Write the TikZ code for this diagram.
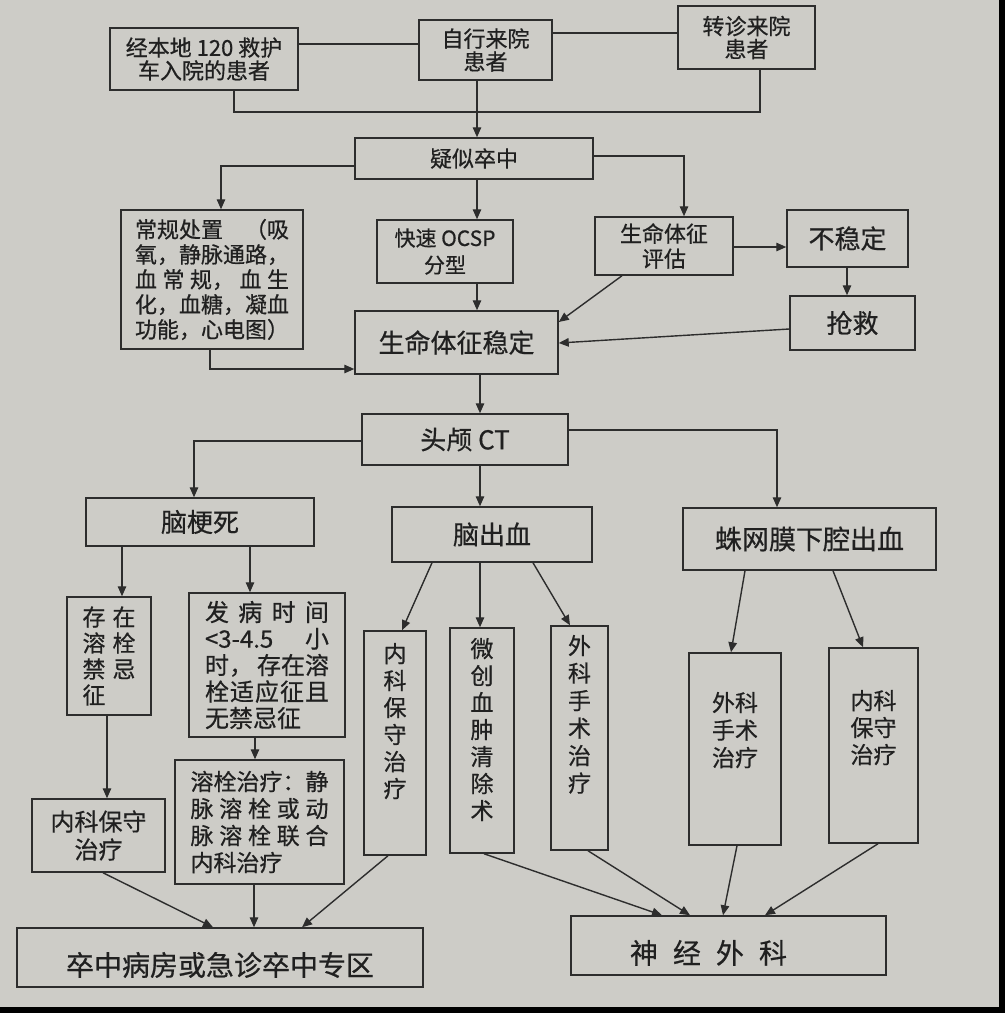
\documentclass[tikz,border=0pt]{standalone}
\usepackage{fontspec}
\setmainfont{Noto Sans CJK SC}[FakeBold=0.6]
\usetikzlibrary{arrows.meta}
\definecolor{bgc}{RGB}{205,204,199}
\definecolor{ink}{RGB}{45,45,45}
\definecolor{txt}{RGB}{32,32,32}
\newcommand\fs[2]{\fontsize{#1pt}{#2pt}\selectfont}
\begin{document}
\begin{tikzpicture}[x=1pt,y=-1pt,
  box/.style={draw=ink,line width=1.5pt,inner sep=0pt,text=txt},
  ln/.style={draw=ink,line width=1.4pt},
  arr/.style={ln,-{Triangle[length=10pt,width=8.5pt]}}]
\fill[bgc] (0,0) rectangle (1005,1013);
\useasboundingbox (0,0) rectangle (1005,1013);
\fill[black] (999,0) rectangle (1005,1013);
\fill[black] (0,1007) rectangle (1005,1013);

% ---- boxes ----
\node[box,align=center,minimum width=188pt,minimum height=62pt,font=\fs{22}{23}] (A) at (204,59) {经本地 120 救护\\车入院的患者};
\node[box,align=center,minimum width=133pt,minimum height=60pt,font=\fs{22}{23}] (B) at (485.5,50) {自行来院\\患者};
\node[box,align=center,minimum width=137pt,minimum height=63pt,font=\fs{22}{23}] (C) at (746.5,37.5) {转诊来院\\患者};
\node[box,minimum width=238pt,minimum height=41pt,font=\fs{22}{23}] (D) at (474,158.5) {疑似卒中};
\node[box,align=left,minimum width=182pt,minimum height=139pt,font=\fs{22}{25}] (E) at (212,279.5)
  {\makebox[154pt]{常规处置\hfill{}（吸}\\
   \makebox[154pt][l]{氧，静脉通路，}\\
   \makebox[154pt]{血\hfill{}常\hfill{}规，\hfill{}血\hfill{}生}\\
   \makebox[154pt][l]{化，血糖，凝血}\\
   \makebox[154pt][l]{功能，心电图）}};
\node[box,align=center,minimum width=136pt,minimum height=63pt,font=\fs{21}{27}] (F) at (445,251.5) {快速 OCSP\\分型};
\node[box,align=center,minimum width=138pt,minimum height=58pt,font=\fs{22}{25}] (G) at (664,246) {生命体征\\评估};
\node[box,minimum width=121pt,minimum height=57pt,font=\fs{26}{28}] (H) at (847.5,238.5) {不稳定};
\node[box,minimum width=125pt,minimum height=54pt,font=\fs{26}{28}] (I) at (852.5,323) {抢救};
\node[box,minimum width=203pt,minimum height=63pt,font=\fs{26}{28}] (J) at (456.5,342.5) {生命体征稳定};
\node[box,minimum width=206pt,minimum height=51pt,font=\fs{26}{28}] (K) at (465,439.5) {头颅 CT};
\node[box,minimum width=228pt,minimum height=48pt,font=\fs{26}{28}] (L) at (200,522) {脑梗死};
\node[box,minimum width=200pt,minimum height=55pt,font=\fs{26}{28}] (M) at (492,534.5) {脑出血};
\node[box,minimum width=253pt,minimum height=62pt,font=\fs{27}{28}] (N) at (809.5,539) {蛛网膜下腔出血};
\node[box,align=left,minimum width=84pt,minimum height=118pt,font=\fs{23}{26}] (O) at (109,656)
  {\makebox[53pt]{存\hfill{}在}\\\makebox[53pt]{溶\hfill{}栓}\\\makebox[53pt]{禁\hfill{}忌}\\\makebox[53pt][l]{征}};
\node[box,align=left,minimum width=156pt,minimum height=144pt,font=\fs{24}{26.5}] (P) at (267,665)
  {\makebox[124pt]{发\hfill{}病\hfill{}时\hfill{}间}\\
   \makebox[124pt]{<3-4.5\hfill{}小}\\
   \makebox[124pt]{时，\hfill{}存在溶}\\
   \makebox[124pt]{栓\hfill{}适\hfill{}应\hfill{}征\hfill{}且}\\
   \makebox[124pt][l]{无禁忌征}};
\node[box,align=center,minimum width=133pt,minimum height=73pt,font=\fs{24}{28}] (Q) at (98.5,835.5) {内科保守\\治疗};
\node[box,align=left,minimum width=169pt,minimum height=124pt,font=\fs{23}{27}] (R) at (259.5,822)
  {\makebox[138pt]{溶栓治疗：静}\\
   \makebox[138pt]{脉\hfill{}溶\hfill{}栓\hfill{}或\hfill{}动}\\
   \makebox[138pt]{脉\hfill{}溶\hfill{}栓\hfill{}联\hfill{}合}\\
   \makebox[138pt][l]{内科治疗}};
\node[box,font=\fs{28}{30}] (S) at (220,957.5)
  {\parbox[c][59pt][t]{406pt}{\vspace*{24pt}\centering 卒中病房或急诊卒中专区}};
\node[box,font=\fs{23}{27}] (T) at (395,743)
  {\parbox[c][224pt][t]{62pt}{\vspace*{12pt}\centering 内\\科\\保\\守\\治\\疗}};
\node[box,font=\fs{23}{27}] (U) at (482,740.5)
  {\parbox[c][225pt][t]{64pt}{\vspace*{10pt}\centering 微\\创\\血\\肿\\清\\除\\术}};
\node[box,font=\fs{23}{27.5}] (V) at (579.5,738)
  {\parbox[c][224pt][t]{57pt}{\vspace*{9pt}\centering 外\\科\\手\\术\\治\\疗}};
\node[box,font=\fs{23}{27.5}] (W) at (735,749)
  {\parbox[c][192pt][t]{92pt}{\vspace*{39pt}\centering 外科\\手术\\治疗}};
\node[box,font=\fs{23}{27}] (X) at (873.5,745.5)
  {\parbox[c][195pt][t]{89pt}{\vspace*{42pt}\centering 内科\\保守\\治疗}};
\node[box,font=\fs{28}{30}] (Y) at (728.5,945.5)
  {\parbox[c][59pt][t]{315pt}{\vspace*{24pt}\centering\hspace*{-40pt}神\hspace{15pt}经\hspace{15pt}外\hspace{15pt}科}};

% ---- helper coordinates ----
\coordinate (yAB) at (0,44);
\coordinate (yBC) at (0,33);
\coordinate (jl) at (234,112);
\coordinate (jr) at (760,112);
\coordinate (xt) at (477,0);
\coordinate (cDE) at (221,166);
\coordinate (cDG) at (684,156);
\coordinate (cEJ) at (210,369);
\coordinate (xg) at (622,0);
\coordinate (yj1) at (0,322);
\coordinate (yGH) at (0,247);
\coordinate (xH) at (847,0);
\coordinate (yI) at (0,329);
\coordinate (yJ) at (0,343);
\coordinate (xm) at (480,0);
\coordinate (cKL) at (194,441);
\coordinate (cKN) at (777,430);
\coordinate (xLO) at (122,0);
\coordinate (xLP) at (250,0);
\coordinate (xOQ) at (107,0);
\coordinate (xPR) at (255,0);
\coordinate (xQ) at (103,0);
\coordinate (xSQ) at (213,0);
\coordinate (xR) at (254,0);
\coordinate (xT) at (388,0);
\coordinate (xST) at (302,0);
\coordinate (xM1) at (432,0);
\coordinate (xT1) at (402,0);
\coordinate (xM3) at (533,0);
\coordinate (xV1) at (570,0);
\coordinate (xN1) at (745,0);
\coordinate (xW1) at (731,0);
\coordinate (xN2) at (833,0);
\coordinate (xX1) at (863,0);
\coordinate (xU2) at (484,0);
\coordinate (xY1) at (662,0);
\coordinate (xV2) at (588,0);
\coordinate (xY2) at (690,0);
\coordinate (xW2) at (737,0);
\coordinate (xY3) at (723,0);
\coordinate (xX2) at (878,0);
\coordinate (xY4) at (765,0);

% ---- connectors ----
\draw[ln] (A.east |- yAB) -- (B.west |- yAB);
\draw[ln] (B.east |- yBC) -- (C.west |- yBC);
\draw[ln] (A.south -| jl) -- (jl) -- (jr) -- (C.south -| jr);
\draw[arr] (B.south -| xt) -- (D.north -| xt);
\draw[arr] (D.west |- cDE) -| (E.north -| cDE);
\draw[arr] (D.east |- cDG) -| (G.north -| cDG);
\draw[arr] (D.south -| xt) -- (F.north -| xt);
\draw[arr] (E.south -| cEJ) |- (J.west |- cEJ);
\draw[arr] (F.south -| xt) -- (J.north -| xt);
\draw[arr] (G.south -| xg) -- (J.east |- yj1);
\draw[arr] (G.east |- yGH) -- (H.west |- yGH);
\draw[arr] (H.south -| xH) -- (I.north -| xH);
\draw[arr] (I.west |- yI) -- (J.east |- yJ);
\draw[arr] (J.south -| xm) -- (K.north -| xm);
\draw[arr] (K.west |- cKL) -| (L.north -| cKL);
\draw[arr] (K.east |- cKN) -| (N.north -| cKN);
\draw[arr] (K.south -| xm) -- (M.north -| xm);
\draw[arr] (L.south -| xLO) -- (O.north -| xLO);
\draw[arr] (L.south -| xLP) -- (P.north -| xLP);
\draw[arr] (O.south -| xOQ) -- (Q.north -| xOQ);
\draw[arr] (P.south -| xPR) -- (R.north -| xPR);
\draw[arr] (Q.south -| xQ) -- (S.north -| xSQ);
\draw[arr] (R.south -| xR) -- (S.north -| xR);
\draw[arr] (T.south -| xT) -- (S.north -| xST);
\draw[arr] (M.south -| xM1) -- (T.north -| xT1);
\draw[arr] (M.south -| xm) -- (U.north -| xm);
\draw[arr] (M.south -| xM3) -- (V.north -| xV1);
\draw[arr] (N.south -| xN1) -- (W.north -| xW1);
\draw[arr] (N.south -| xN2) -- (X.north -| xX1);
\draw[arr] (U.south -| xU2) -- (Y.north -| xY1);
\draw[arr] (V.south -| xV2) -- (Y.north -| xY2);
\draw[arr] (W.south -| xW2) -- (Y.north -| xY3);
\draw[arr] (X.south -| xX2) -- (Y.north -| xY4);
\end{tikzpicture}
\end{document}
